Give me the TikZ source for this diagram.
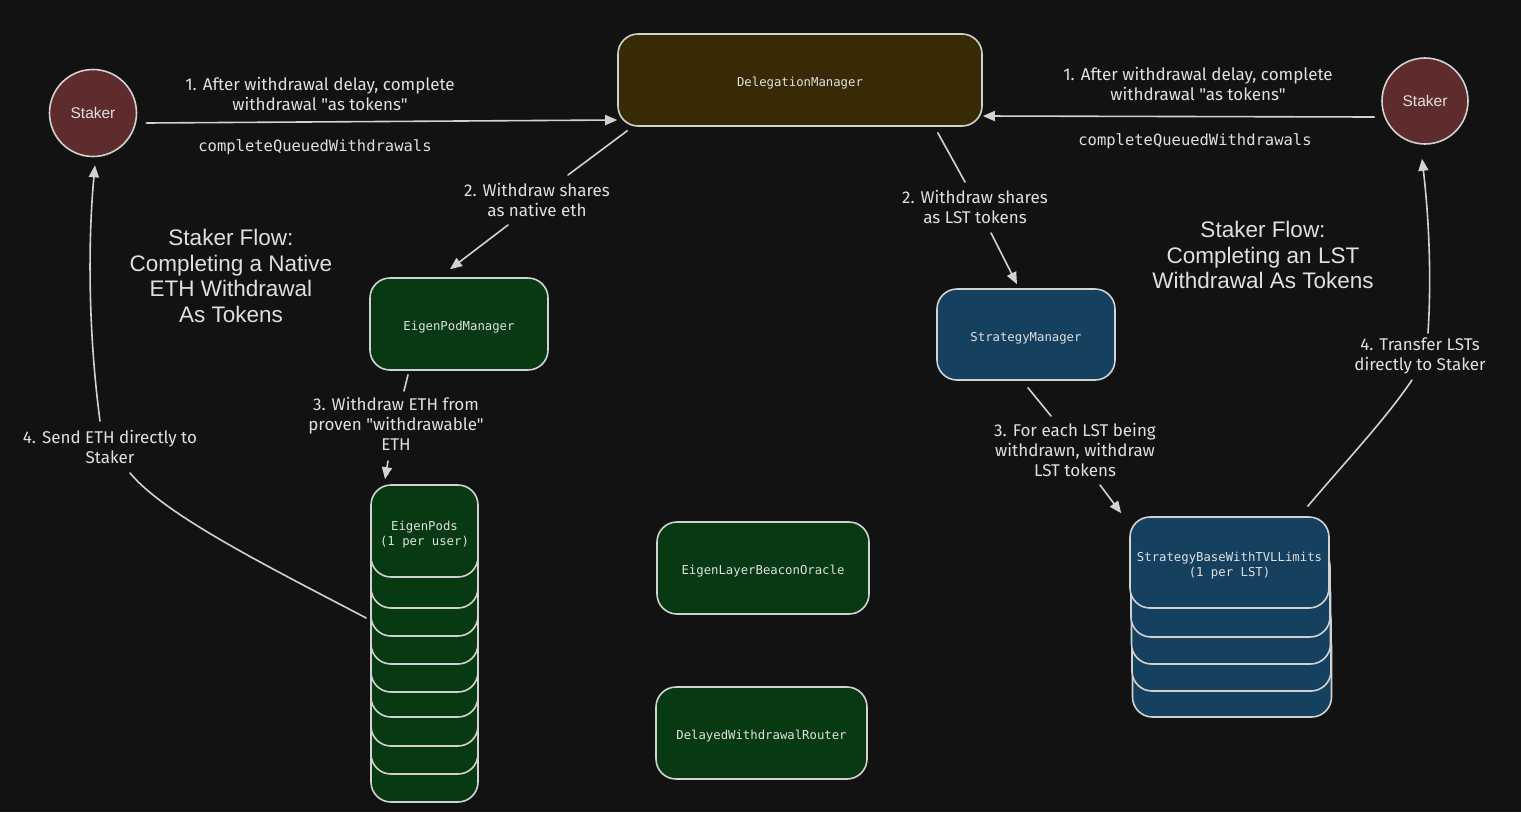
\documentclass[tikz,border=0pt]{standalone}
\usepackage{fontspec}
\setmainfont{Liberation Sans}
\newfontfamily\hand{Fira Sans}
\newfontfamily\mono{DejaVu Sans Mono}
\usetikzlibrary{arrows.meta}
\definecolor{bg}{HTML}{121212}
\definecolor{stroke}{HTML}{D2D2D2}
\definecolor{txt}{HTML}{E0E0E0}
\definecolor{stakerfill}{RGB}{94,44,44}
\definecolor{dmfill}{RGB}{56,42,4}
\definecolor{greenfill}{RGB}{7,58,18}
\definecolor{bluefill}{RGB}{22,64,96}
\tikzset{
  box/.style={draw=stroke, line width=1.6pt, rounded corners=20pt, text=txt,
    font=\mono\fontsize{12.3}{15}\selectfont, align=center, inner sep=0pt,
    execute at begin node={\rule{0pt}{16pt}}},
  twoline/.style={execute at begin node={}, text height=29pt, text depth=0pt},
  stakernode/.style={circle, draw=stroke, line width=1.6pt, fill=stakerfill, text=txt,
    minimum size=87pt, inner sep=0pt, font=\fontsize{15.5}{18}\selectfont},
  podcard/.style={box, fill=greenfill, minimum width=107pt, minimum height=92pt},
  stcard/.style={box, fill=bluefill, minimum width=199pt, minimum height=91pt},
  hand/.style={text=txt, font=\hand\fontsize{17}{20}\selectfont, align=center, inner sep=0pt},
  code/.style={text=txt, font=\mono\fontsize{15.5}{18}\selectfont, inner sep=0pt},
  title/.style={text=txt, font=\fontsize{22.5}{25.5}\selectfont, align=center, inner sep=0pt},
  conn/.style={draw=stroke, line width=1.6pt, line cap=round},
  arr/.style={conn, -{Triangle[length=12pt,width=10pt]}}
}
\begin{document}
\begin{tikzpicture}[x=1pt,y=-1pt]
\useasboundingbox (0,0) rectangle (1521,812);
\fill[bg] (0,0) rectangle (1521,812);

% main nodes
\node[stakernode] (sL) at (93,113) {Staker};
\node[stakernode, minimum size=86pt] (sR) at (1425,101) {Staker};
\node[box, fill=dmfill, minimum width=364pt, minimum height=92pt] (DM) at (800,80) {DelegationManager};
\node[box, fill=greenfill, minimum width=178pt, minimum height=92pt] (EPM) at (459,324) {EigenPodManager};
\node[box, fill=bluefill, minimum width=178pt, minimum height=91pt] (SM) at (1026,334.5) {StrategyManager};
\node[box, fill=greenfill, minimum width=212pt, minimum height=92pt] (EBO) at (763,568) {EigenLayerBeaconOracle};
\node[box, fill=greenfill, minimum width=211pt, minimum height=92pt] (DWR) at (761.5,733) {DelayedWithdrawalRouter};

% EigenPods stack
\foreach \t/\n in {710/8,682/7,654/6,625/5,600/4,572/3,544/2,516/1}
  \node[podcard] (pod\n) at (424.5,{\t+46}) {};
\node[podcard, twoline] (pod0) at (424.5,531) {EigenPods\\(1 per user)};

% Strategy stack
\foreach \t/\x/\n in {626/1232/4,600/1231.5/3,573/1231/2,546/1230.5/1}
  \node[stcard] (st\n) at (\x,{\t+45.5}) {};
\node[stcard, twoline, text height=28pt] (st0) at (1229.5,562.5) {StrategyBaseWithTVLLimits\\(1 per LST)};

% texts
\node[hand] (l1L) at (320,94) {1. After withdrawal delay, complete\\withdrawal "as tokens"};
\node[code] (c1L) at (315,147) {completeQueuedWithdrawals};
\node[hand] (l1R) at (1198,84) {1. After withdrawal delay, complete\\withdrawal "as tokens"};
\node[code] (c1R) at (1195,141) {completeQueuedWithdrawals};
\node[hand] (l2L) at (537,200) {2. Withdraw shares\\as native eth};
\node[hand] (l2R) at (975,207) {2. Withdraw shares\\as LST tokens};
\node[hand] (l3L) at (396,424) {3. Withdraw ETH from\\proven "withdrawable"\\ETH};
\node[hand] (l3R) at (1075,450) {3. For each LST being\\withdrawn, withdraw\\LST tokens};
\node[hand] (l4L) at (110,447) {4. Send ETH directly to\\Staker};
\node[hand] (l4R) at (1420,356) {4. Transfer LSTs\\directly to Staker};
\node[title] (tL) at (231,276) {Staker Flow:\\Completing a Native\\ETH Withdrawal\\As Tokens};
\node[title] (tR) at (1263,255) {Staker Flow:\\Completing an LST\\Withdrawal As Tokens};

% label-side connector ends
\coordinate (c2La) at (568,175);
\coordinate (c2Lb) at (508,225);
\coordinate (c2Ra) at (965,182);
\coordinate (c2Rb) at (991,233);
\coordinate (c3La) at (404,391);
\coordinate (c3Lb) at (388,461);
\coordinate (c3Ra) at (1051,416);
\coordinate (c3Rb) at (1100,485);
\coordinate (c4La) at (130,473);
\coordinate (c4Lb) at (100,421);
\coordinate (c4Ra) at (1412,380);
\coordinate (c4Rb) at (1428,333);

% connectors
\draw[arr] ([xshift=9pt,yshift=-10pt]sL.east) -- ([yshift=-40pt]DM.west);
\draw[arr] ([xshift=-7pt,yshift=-16pt]sR.west) -- ([yshift=-36pt]DM.east);

\draw[conn] ([xshift=10pt,yshift=-4pt]DM.south west) -- (c2La);
\draw[arr] (c2Lb) -- ([xshift=-9pt,yshift=8pt]EPM.north);
\draw[conn] ([xshift=-45pt,yshift=-6pt]DM.south east) -- (c2Ra);
\draw[arr] (c2Rb) -- ([xshift=-9pt,yshift=4pt]SM.north);

\draw[conn] ([xshift=-51pt,yshift=-4pt]EPM.south) -- (c3La);
\draw[arr] (c3Lb) -- ([xshift=-39.5pt,yshift=5pt]pod0.north);
\draw[conn] ([xshift=2pt,yshift=-7pt]SM.south) -- (c3Ra);
\draw[arr] (c3Rb) -- ([xshift=-8pt,yshift=3pt]st0.north west);

\draw[conn] ([xshift=-4pt]pod3.west) .. controls (265,565) and (165,515) .. (c4La);
\draw[arr] (c4Lb) .. controls (88,330) and (88,240) .. ([xshift=2pt,yshift=-8pt]sL.south);
\draw[conn] ([xshift=-22pt,yshift=10pt]st0.north east) .. controls (1345,462) and (1385,420) .. (c4Ra);
\draw[arr] (c4Rb) .. controls (1432,270) and (1428,210) .. ([xshift=-3pt,yshift=-14pt]sR.south);
\end{tikzpicture}
\end{document}
